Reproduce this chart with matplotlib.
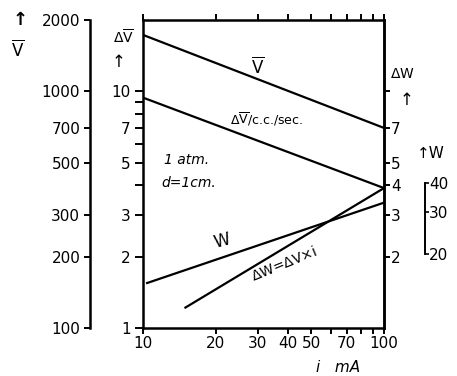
import matplotlib
matplotlib.use("Agg")
import matplotlib.pyplot as plt
from matplotlib.ticker import FixedLocator, FixedFormatter, NullLocator, NullFormatter

# ---- data ----
i_V = [10, 100]
V_volts = [1730, 700]            # V (left outer scale, volts)
i_dV = [10, 100]
dV_vals = [9.4, 3.9]             # ΔV / c.c./sec
i_W = [10.4, 100]
W_vals = [15.1, 33.0]            # W (small W scale)
i_dW = [15, 100]
dW_vals = [1.22, 3.9]            # ΔW = ΔV x i

x_ticks = [10, 20, 30, 40, 50, 70, 100]
x_minor = [60, 80, 90]
dV_ticks = [1, 2, 3, 5, 7, 10]
dV_minor = [4, 6, 8, 9]
V_ticks = [100, 200, 300, 500, 700, 1000, 2000]
dW_ticks = [2, 3, 4, 5, 7, 10]
dW_labels = ['2', '3', '4', '5', '7', '']
W_ticks = [20, 30, 40]

W = 457; H = 376
fig = plt.figure(figsize=(W/100, H/100), dpi=100)
L, R, T, B = 143, 384, 20, 328
ax = fig.add_axes([L/W, 1-B/H, (R-L)/W, (B-T)/H])
lw = 1.6
fs = 11

ax.set_xscale('log'); ax.set_yscale('log')
ax.set_xlim(10, 100); ax.set_ylim(1, 20)
for s in ax.spines.values():
    s.set_linewidth(1.8)
ax.xaxis.set_major_locator(FixedLocator(x_ticks))
ax.xaxis.set_major_formatter(FixedFormatter([str(v) for v in x_ticks]))
ax.xaxis.set_minor_locator(FixedLocator(x_minor))
ax.xaxis.set_minor_formatter(NullFormatter())
ax.yaxis.set_major_locator(FixedLocator(dV_ticks))
ax.yaxis.set_major_formatter(FixedFormatter([str(v) for v in dV_ticks]))
ax.yaxis.set_minor_locator(FixedLocator(dV_minor))
ax.yaxis.set_minor_formatter(NullFormatter())
ax.tick_params(axis='x', which='both', direction='out', top=True, bottom=True,
               length=4, width=1.4, labelsize=fs, pad=2)
ax.tick_params(axis='y', which='both', direction='out', left=True, right=False,
               length=6, width=1.4, labelsize=fs, pad=3)

ax.plot(i_dV, dV_vals, color='black', lw=lw)
ax.plot(i_W, [w/9.75 for w in W_vals], color='black', lw=lw)

# V scale (outer left)
ax_v = ax.twinx()
ax_v.set_yscale('log'); ax_v.set_ylim(100, 2000)
ax_v.yaxis.set_ticks_position('left')
ax_v.spines['left'].set_position(('axes', (90-L)/(R-L)))
ax_v.spines['left'].set_linewidth(1.8)
for k in ['right', 'top', 'bottom']:
    ax_v.spines[k].set_visible(False)
ax_v.yaxis.set_major_locator(FixedLocator(V_ticks))
ax_v.yaxis.set_major_formatter(FixedFormatter([str(v) for v in V_ticks]))
ax_v.yaxis.set_minor_locator(NullLocator())
ax_v.tick_params(axis='y', direction='out', length=4, width=1.4, labelsize=fs, pad=3)
ax_v.plot(i_V, V_volts, color='black', lw=lw)

# ΔW scale (right spine)
ax_r = ax.twinx()
ax_r.set_yscale('log'); ax_r.set_ylim(1, 20)
for k in ['left', 'top', 'bottom']:
    ax_r.spines[k].set_visible(False)
ax_r.spines['right'].set_linewidth(1.8)
ax_r.yaxis.set_major_locator(FixedLocator(dW_ticks))
ax_r.yaxis.set_major_formatter(FixedFormatter(dW_labels))
ax_r.yaxis.set_minor_locator(NullLocator())
ax_r.tick_params(axis='y', direction='out', length=4, width=1.4, labelsize=fs, pad=1)
ax_r.plot(i_dW, dW_vals, color='black', lw=lw)

# W scale (small bracket at far right)
ax_w = ax.twinx()
ax_w.set_yscale('log'); ax_w.set_ylim(9.75, 195)
for k in ['left', 'top', 'bottom']:
    ax_w.spines[k].set_visible(False)
ax_w.spines['right'].set_position(('axes', (425-L)/(R-L)))
ax_w.spines['right'].set_bounds(20, 40)
ax_w.spines['right'].set_linewidth(1.4)
ax_w.yaxis.set_major_locator(FixedLocator(W_ticks))
ax_w.yaxis.set_major_formatter(FixedFormatter([str(v) for v in W_ticks]))
ax_w.yaxis.set_minor_locator(NullLocator())
ax_w.tick_params(axis='y', direction='out', length=3, width=1.2, labelsize=fs, pad=0)

def ft(x, y, s, **kw):
    fig.text(x/W, 1-y/H, s, ha=kw.pop('ha', 'center'), va=kw.pop('va', 'center'),
             fontsize=kw.pop('fontsize', fs), **kw)

Vbar = r'$\overline{\mathrm{V}}$'
ft(20, 20, '↑', fontsize=13, fontweight='bold')
ft(18, 50, Vbar, fontsize=12)
ft(123, 37, r'$\Delta\overline{\mathrm{V}}$', fontsize=10)
ft(119, 62, '↑', fontsize=12)
ft(402, 74, r'$\Delta$W', fontsize=10)
ft(407, 100, '↑', fontsize=12)
ft(431, 153, '↑W', fontsize=11)
ft(258, 67, Vbar, fontsize=12)
ft(266, 119, r'$\Delta\overline{\mathrm{V}}$/c.c./sec.', fontsize=9)
ft(164, 160, '1 atm.', ha='left', style='italic', fontsize=10)
ft(161, 183, 'd=1cm.', ha='left', style='italic', fontsize=10)
ft(222, 241, 'W', rotation=15, fontsize=12)
ft(284, 264, r'$\Delta$W=$\Delta$V×i', rotation=22, fontsize=10)
ft(338, 367, 'i   mA', style='italic', fontsize=11)

fig.savefig('out.png', dpi=100, facecolor='white')
